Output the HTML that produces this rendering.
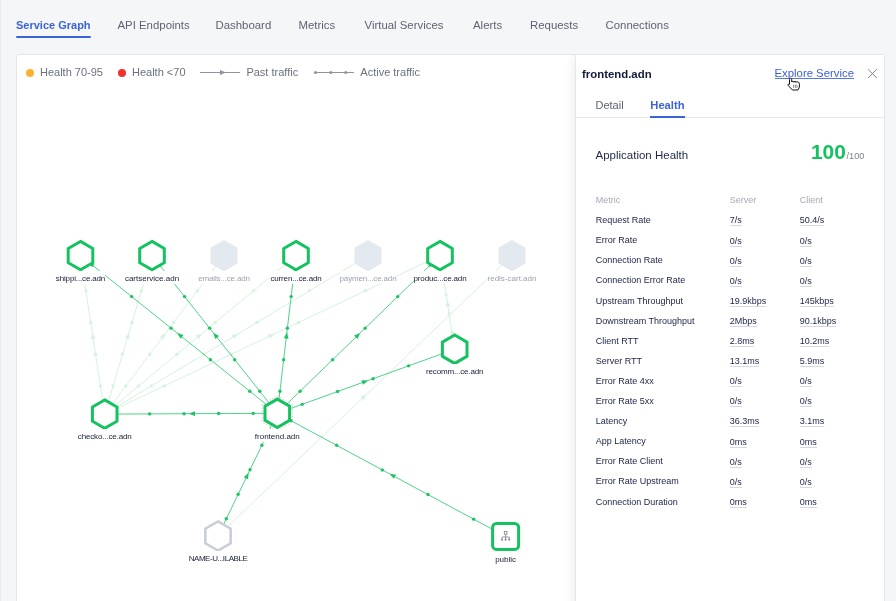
<!DOCTYPE html>
<html><head><meta charset="utf-8"><style>
*{margin:0;padding:0;box-sizing:border-box}
html,body{width:896px;height:601px;overflow:hidden;background:#f5f6f8;font-family:"Liberation Sans",sans-serif}
.tab{position:absolute;top:18.6px;font-size:11.4px;line-height:13px;color:#5d6372;white-space:nowrap}
.tab.act{color:#3b63d9;font-weight:bold;font-size:11px}
.uline{position:absolute;left:16px;top:36px;width:75px;height:2px;background:#3b63d9;border-radius:1px}
.card{position:absolute;left:16px;top:54px;width:869px;height:560px;background:#fff;border:1px solid #e2e5eb;border-radius:3px}
.leg{position:absolute;top:65.8px;font-size:11px;line-height:13px;color:#6b7182;white-space:nowrap}
.dot{position:absolute;width:8px;height:8px;border-radius:50%}
svg.g{position:absolute;left:0;top:0}
.lab{position:absolute;width:100px;text-align:center;font-size:8px;line-height:10px;white-space:nowrap}
.lab.e{letter-spacing:-0.15px}
.lab span{background:rgba(255,255,255,0.93);padding:3px 0 1px}
.lab .el{padding:0;background:none}
.panel{position:absolute;left:575px;top:55px;width:309px;height:560px;background:#fff;border-left:1px solid #e6e8ee;box-shadow:-6px 0 8px -3px rgba(30,40,70,0.07);clip-path:inset(0 0 0 -20px)}
.ptitle{position:absolute;left:582px;top:67.9px;font-size:11.4px;line-height:13px;font-weight:bold;color:#111a3a}
.explore{position:absolute;left:774.5px;top:67.2px;font-size:11.35px;line-height:13px;color:#3d5fd6}
.exul{position:absolute;left:774.5px;top:78px;width:79px;height:1px;background:#5a78dc}
.ptab{position:absolute;top:98.7px;font-size:11px;line-height:13px;color:#5d6372}
.ptab.act{color:#3b63d9;font-weight:bold;font-size:11.2px}
.pborder{position:absolute;left:576px;top:117px;width:308px;height:1px;background:#e6e8ee}
.puline{position:absolute;left:650px;top:116px;width:35px;height:2px;background:#3b63d9}
.apph{position:absolute;left:595.5px;top:148.2px;font-size:11.5px;line-height:14px;color:#1f2849}
.score{position:absolute;left:811px;top:139.5px;font-size:20.8px;line-height:24px;font-weight:bold;color:#14c25f}
.score small{font-size:9.2px;margin-left:0.8px;font-weight:normal;color:#7b8192}
.tbl div{position:absolute;font-size:9px;line-height:11px;white-space:nowrap;color:#1b2246}
.tbl .h{color:#a3a9b8}
.tbl .v{border-bottom:1px solid #d5d9e1;line-height:11px;height:11px}
</style></head><body><div id="w" style="position:absolute;left:0;top:0;width:896px;height:601px;will-change:transform">
<div style="position:absolute;left:0;top:0;width:1px;height:601px;background:#e8eaee"></div>
<div class="tab act" style="left:16px">Service Graph</div>
<div class="uline"></div>
<div class="tab" style="left:117.5px">API Endpoints</div>
<div class="tab" style="left:215.5px">Dashboard</div>
<div class="tab" style="left:298.5px">Metrics</div>
<div class="tab" style="left:364.5px">Virtual Services</div>
<div class="tab" style="left:473px">Alerts</div>
<div class="tab" style="left:530px">Requests</div>
<div class="tab" style="left:605.5px">Connections</div>
<div class="card"></div>
<div class="dot" style="left:25.6px;top:68.5px;background:#fbb232"></div>
<div class="leg" style="left:40px">Health 70-95</div>
<div class="dot" style="left:117.8px;top:68.5px;background:#f2312e"></div>
<div class="leg" style="left:132px">Health &lt;70</div>
<svg class="g" width="896" height="601" style="position:absolute;left:0;top:0">
<g stroke="#8e94a2" fill="#8e94a2"><line x1="200" y1="72.5" x2="240" y2="72.5" stroke-width="1"/><polygon points="226,72.5 220,70 220,75" stroke="none"/>
<line x1="314.5" y1="72.5" x2="354" y2="72.5" stroke-width="1"/><circle cx="315.5" cy="72.5" r="1.6" stroke="none"/><circle cx="330.8" cy="72.5" r="1.6" stroke="none"/><circle cx="345.8" cy="72.5" r="1.6" stroke="none"/></g>
</svg>
<div class="leg" style="left:246.4px">Past traffic</div>
<div class="leg" style="left:360.3px">Active traffic</div>
<svg class="g" width="896" height="601">
<line x1="104.7" y1="414.1" x2="80.5" y2="255.6" stroke="#d5f3df" stroke-width="1"/>
<polygon points="92.27,332.68 95.58,338.44 90.83,339.17" fill="#d5f3df"/>
<circle cx="100.39" cy="385.89" r="1.7" fill="#d5f3df"/>
<circle cx="95.55" cy="354.19" r="1.7" fill="#d5f3df"/>
<circle cx="90.71" cy="322.49" r="1.7" fill="#d5f3df"/>
<circle cx="85.87" cy="290.79" r="1.7" fill="#d5f3df"/>
<circle cx="81.03" cy="259.09" r="1.7" fill="#d5f3df"/>
<line x1="104.7" y1="414.1" x2="152" y2="255.6" stroke="#d5f3df" stroke-width="1"/>
<polygon points="128.98,332.74 129.51,339.37 124.91,338.00" fill="#d5f3df"/>
<circle cx="113.12" cy="385.89" r="1.7" fill="#d5f3df"/>
<circle cx="122.58" cy="354.19" r="1.7" fill="#d5f3df"/>
<circle cx="132.04" cy="322.49" r="1.7" fill="#d5f3df"/>
<circle cx="141.50" cy="290.79" r="1.7" fill="#d5f3df"/>
<circle cx="150.96" cy="259.09" r="1.7" fill="#d5f3df"/>
<line x1="104.7" y1="414.1" x2="224" y2="255.6" stroke="#d5f3df" stroke-width="1"/>
<polygon points="165.67,333.09 163.86,339.49 160.03,336.60" fill="#d5f3df"/>
<circle cx="125.94" cy="385.89" r="1.7" fill="#d5f3df"/>
<circle cx="149.80" cy="354.19" r="1.7" fill="#d5f3df"/>
<circle cx="173.66" cy="322.49" r="1.7" fill="#d5f3df"/>
<circle cx="197.52" cy="290.79" r="1.7" fill="#d5f3df"/>
<circle cx="221.38" cy="259.09" r="1.7" fill="#d5f3df"/>
<line x1="104.7" y1="414.1" x2="296" y2="255.6" stroke="#d5f3df" stroke-width="1"/>
<polygon points="202.04,333.45 198.80,339.25 195.74,335.55" fill="#d5f3df"/>
<circle cx="138.75" cy="385.89" r="1.7" fill="#d5f3df"/>
<circle cx="177.01" cy="354.19" r="1.7" fill="#d5f3df"/>
<circle cx="215.27" cy="322.49" r="1.7" fill="#d5f3df"/>
<circle cx="253.53" cy="290.79" r="1.7" fill="#d5f3df"/>
<circle cx="291.79" cy="259.09" r="1.7" fill="#d5f3df"/>
<line x1="104.7" y1="414.1" x2="368" y2="255.6" stroke="#d5f3df" stroke-width="1"/>
<polygon points="238.23,333.72 234.16,338.97 231.69,334.86" fill="#d5f3df"/>
<circle cx="151.57" cy="385.89" r="1.7" fill="#d5f3df"/>
<circle cx="204.23" cy="354.19" r="1.7" fill="#d5f3df"/>
<circle cx="256.89" cy="322.49" r="1.7" fill="#d5f3df"/>
<circle cx="309.55" cy="290.79" r="1.7" fill="#d5f3df"/>
<circle cx="362.21" cy="259.09" r="1.7" fill="#d5f3df"/>
<line x1="104.7" y1="414.1" x2="440" y2="255.6" stroke="#d5f3df" stroke-width="1"/>
<polygon points="274.34,333.91 269.76,338.73 267.71,334.39" fill="#d5f3df"/>
<circle cx="164.38" cy="385.89" r="1.7" fill="#d5f3df"/>
<circle cx="231.44" cy="354.19" r="1.7" fill="#d5f3df"/>
<circle cx="298.50" cy="322.49" r="1.7" fill="#d5f3df"/>
<circle cx="365.56" cy="290.79" r="1.7" fill="#d5f3df"/>
<circle cx="432.62" cy="259.09" r="1.7" fill="#d5f3df"/>
<line x1="454.7" y1="349.2" x2="440" y2="255.6" stroke="#d5f3df" stroke-width="1"/>
<polygon points="447.01,300.23 450.34,305.98 445.60,306.72" fill="#d5f3df"/>
<circle cx="452.08" cy="332.54" r="1.7" fill="#d5f3df"/>
<circle cx="449.14" cy="313.82" r="1.7" fill="#d5f3df"/>
<circle cx="446.20" cy="295.10" r="1.7" fill="#d5f3df"/>
<circle cx="443.26" cy="276.38" r="1.7" fill="#d5f3df"/>
<circle cx="440.32" cy="257.66" r="1.7" fill="#d5f3df"/>
<line x1="218" y1="536" x2="512" y2="255.6" stroke="#d5f3df" stroke-width="1"/>
<polygon points="366.59,394.28 363.76,400.30 360.45,396.82" fill="#d5f3df"/>
<line x1="277.3" y1="413.3" x2="80.5" y2="255.6" stroke="#30ca71" stroke-width="0.85"/>
<polygon points="177.18,333.07 183.52,335.08 180.52,338.82" fill="#1cc463"/>
<circle cx="249.75" cy="391.22" r="1.7" fill="#1cc463"/>
<circle cx="210.39" cy="359.68" r="1.7" fill="#1cc463"/>
<circle cx="171.03" cy="328.14" r="1.7" fill="#1cc463"/>
<circle cx="131.67" cy="296.60" r="1.7" fill="#1cc463"/>
<circle cx="92.31" cy="265.06" r="1.7" fill="#1cc463"/>
<line x1="277.3" y1="413.3" x2="152" y2="255.6" stroke="#30ca71" stroke-width="0.85"/>
<polygon points="213.28,332.73 219.02,336.09 215.26,339.07" fill="#1cc463"/>
<circle cx="259.76" cy="391.22" r="1.7" fill="#1cc463"/>
<circle cx="234.70" cy="359.68" r="1.7" fill="#1cc463"/>
<circle cx="209.64" cy="328.14" r="1.7" fill="#1cc463"/>
<circle cx="184.58" cy="296.60" r="1.7" fill="#1cc463"/>
<circle cx="159.52" cy="265.06" r="1.7" fill="#1cc463"/>
<line x1="277.3" y1="413.3" x2="296" y2="255.6" stroke="#30ca71" stroke-width="0.85"/>
<polygon points="286.91,332.27 288.56,338.70 283.80,338.14" fill="#1cc463"/>
<circle cx="279.92" cy="391.22" r="1.7" fill="#1cc463"/>
<circle cx="283.66" cy="359.68" r="1.7" fill="#1cc463"/>
<circle cx="287.40" cy="328.14" r="1.7" fill="#1cc463"/>
<circle cx="291.14" cy="296.60" r="1.7" fill="#1cc463"/>
<circle cx="294.88" cy="265.06" r="1.7" fill="#1cc463"/>
<line x1="277.3" y1="413.3" x2="440" y2="255.6" stroke="#30ca71" stroke-width="0.85"/>
<polygon points="360.23,332.92 357.45,338.96 354.11,335.51" fill="#1cc463"/>
<circle cx="300.08" cy="391.22" r="1.7" fill="#1cc463"/>
<circle cx="332.62" cy="359.68" r="1.7" fill="#1cc463"/>
<circle cx="365.16" cy="328.14" r="1.7" fill="#1cc463"/>
<circle cx="397.70" cy="296.60" r="1.7" fill="#1cc463"/>
<circle cx="430.24" cy="265.06" r="1.7" fill="#1cc463"/>
<line x1="277.3" y1="413.3" x2="454.7" y2="349.2" stroke="#30ca71" stroke-width="0.85"/>
<polygon points="368.07,380.50 363.05,384.87 361.42,380.35" fill="#1cc463"/>
<circle cx="302.14" cy="404.33" r="1.7" fill="#1cc463"/>
<circle cx="337.62" cy="391.51" r="1.7" fill="#1cc463"/>
<circle cx="373.10" cy="378.69" r="1.7" fill="#1cc463"/>
<circle cx="408.58" cy="365.87" r="1.7" fill="#1cc463"/>
<circle cx="444.06" cy="353.05" r="1.7" fill="#1cc463"/>
<line x1="277.3" y1="413.3" x2="104.7" y2="414.1" stroke="#30ca71" stroke-width="0.85"/>
<polygon points="188.80,413.71 194.99,411.28 195.01,416.08" fill="#1cc463"/>
<circle cx="253.14" cy="413.41" r="1.7" fill="#1cc463"/>
<circle cx="218.62" cy="413.57" r="1.7" fill="#1cc463"/>
<circle cx="184.10" cy="413.73" r="1.7" fill="#1cc463"/>
<circle cx="149.58" cy="413.89" r="1.7" fill="#1cc463"/>
<circle cx="115.06" cy="414.05" r="1.7" fill="#1cc463"/>
<line x1="218" y1="536" x2="277.3" y2="413.3" stroke="#30ca71" stroke-width="0.85"/>
<polygon points="248.61,472.67 248.07,479.30 243.75,477.21" fill="#1cc463"/>
<circle cx="226.30" cy="518.82" r="1.7" fill="#1cc463"/>
<circle cx="238.16" cy="494.28" r="1.7" fill="#1cc463"/>
<circle cx="250.02" cy="469.74" r="1.7" fill="#1cc463"/>
<circle cx="261.88" cy="445.20" r="1.7" fill="#1cc463"/>
<circle cx="273.74" cy="420.66" r="1.7" fill="#1cc463"/>
<line x1="505.6" y1="536.4" x2="277.3" y2="413.3" stroke="#30ca71" stroke-width="0.85"/>
<polygon points="389.51,473.81 396.11,474.64 393.83,478.86" fill="#1cc463"/>
<circle cx="473.64" cy="519.17" r="1.7" fill="#1cc463"/>
<circle cx="427.98" cy="494.55" r="1.7" fill="#1cc463"/>
<circle cx="382.32" cy="469.93" r="1.7" fill="#1cc463"/>
<circle cx="336.66" cy="445.31" r="1.7" fill="#1cc463"/>
<circle cx="291.00" cy="420.69" r="1.7" fill="#1cc463"/>
<polygon points="80.50,241.40 92.80,248.50 92.80,262.70 80.50,269.80 68.20,262.70 68.20,248.50" fill="#fff" stroke="#14c25f" stroke-width="3" stroke-linejoin="miter"/>
<polygon points="152.00,241.40 164.30,248.50 164.30,262.70 152.00,269.80 139.70,262.70 139.70,248.50" fill="#fff" stroke="#14c25f" stroke-width="3" stroke-linejoin="miter"/>
<polygon points="224.00,241.10 236.56,248.35 236.56,262.85 224.00,270.10 211.44,262.85 211.44,248.35" fill="#e4e8ef" stroke="#e4e8ef" stroke-width="2" stroke-linejoin="round"/>
<polygon points="296.00,241.40 308.30,248.50 308.30,262.70 296.00,269.80 283.70,262.70 283.70,248.50" fill="#fff" stroke="#14c25f" stroke-width="3" stroke-linejoin="miter"/>
<polygon points="368.00,241.10 380.56,248.35 380.56,262.85 368.00,270.10 355.44,262.85 355.44,248.35" fill="#e4e8ef" stroke="#e4e8ef" stroke-width="2" stroke-linejoin="round"/>
<polygon points="440.00,241.40 452.30,248.50 452.30,262.70 440.00,269.80 427.70,262.70 427.70,248.50" fill="#fff" stroke="#14c25f" stroke-width="3" stroke-linejoin="miter"/>
<polygon points="512.00,241.10 524.56,248.35 524.56,262.85 512.00,270.10 499.44,262.85 499.44,248.35" fill="#e4e8ef" stroke="#e4e8ef" stroke-width="2" stroke-linejoin="round"/>
<polygon points="454.70,335.00 467.00,342.10 467.00,356.30 454.70,363.40 442.40,356.30 442.40,342.10" fill="#fff" stroke="#14c25f" stroke-width="3" stroke-linejoin="miter"/>
<polygon points="104.70,399.90 117.00,407.00 117.00,421.20 104.70,428.30 92.40,421.20 92.40,407.00" fill="#fff" stroke="#14c25f" stroke-width="3" stroke-linejoin="miter"/>
<polygon points="277.30,395.80 292.46,404.55 292.46,422.05 277.30,430.80 262.14,422.05 262.14,404.55" fill="none" stroke="#c9cdd5" stroke-width="0.9" stroke-dasharray="1.6,1.6"/>
<polygon points="277.30,399.10 289.60,406.20 289.60,420.40 277.30,427.50 265.00,420.40 265.00,406.20" fill="#fff" stroke="#14c25f" stroke-width="3" stroke-linejoin="miter"/>
<polygon points="218.00,521.40 230.64,528.70 230.64,543.30 218.00,550.60 205.36,543.30 205.36,528.70" fill="#fff" stroke="#c9ced8" stroke-width="2.6"/>
<rect x="492.6" y="523.4" width="26" height="26" rx="4" fill="#fff" stroke="#14c25f" stroke-width="3"/>
<g stroke="#7d8596" fill="none" stroke-width="0.8"><rect x="504.3" y="531.6" width="2.6" height="2.6"/><path d="M505.6 534.1999999999999V537.0M502.0 539.0V537.0H509.20000000000005V539.0M505.6 537.0V539.0"/></g><g fill="#7d8596"><circle cx="502.0" cy="539.8" r="1"/><circle cx="505.6" cy="539.8" r="1"/><circle cx="509.20000000000005" cy="539.8" r="1"/></g>
</svg>
<div class="lab e" style="left:30.5px;top:273.8px;color:#181d3a"><span>shippi<span class=el>...</span>ce.adn</span></div>
<div class="lab" style="left:102px;top:273.8px;color:#181d3a"><span>cartservice.adn</span></div>
<div class="lab e" style="left:174px;top:273.8px;color:#9ba2b4"><span>emails<span class=el>...</span>ce.adn</span></div>
<div class="lab e" style="left:246px;top:273.8px;color:#181d3a"><span>curren<span class=el>...</span>ce.adn</span></div>
<div class="lab e" style="left:318px;top:273.8px;color:#9ba2b4"><span>paymen<span class=el>...</span>ce.adn</span></div>
<div class="lab e" style="left:390px;top:273.8px;color:#181d3a"><span>produc<span class=el>...</span>ce.adn</span></div>
<div class="lab" style="left:462px;top:273.8px;color:#9ba2b4"><span>redis-cart.adn</span></div>
<div class="lab e" style="left:404.7px;top:367.4px;color:#181d3a"><span>recomm<span class=el>...</span>ce.adn</span></div>
<div class="lab e" style="left:54.7px;top:432.3px;color:#181d3a"><span>checko<span class=el>...</span>ce.adn</span></div>
<div class="lab" style="left:227.3px;top:431.5px;color:#181d3a"><span>frontend.adn</span></div>
<div class="lab e" style="left:168px;top:554.2px;color:#181d3a"><span><b style="font-weight:normal;letter-spacing:-0.45px">NAME-U...ILABLE</b></span></div>
<div class="lab" style="left:455.6px;top:554.6px;color:#181d3a"><span>public</span></div>
<div class="panel"></div>
<div class="ptitle">frontend.adn</div>
<div class="explore">Explore Service</div><div class="exul"></div>
<svg class="g" width="896" height="601"><path d="M868 69.2L876.8 78M876.8 69.2L868 78" stroke="#7d8391" stroke-width="1"/></svg>
<svg class="g" width="896" height="601"><g transform="translate(790.6,78.4)"><path d="M-1.1 0.9Q-1.1 -0.1 0 -0.1Q1.1 -0.1 1.1 0.9L1.1 3.6Q1.2 2.9 2.2 2.9Q3.3 2.9 3.3 3.9Q3.4 3.0 4.4 3.0Q5.5 3.0 5.5 4.0Q5.6 3.3 6.6 3.3Q7.8 3.3 8.3 4.3L8.9 6.2Q9.1 7.5 8.5 9.5L7.3 11.6L1.9 11.6L-2.3 7.2Q-2.9 6.2 -2.1 5.6Q-1.6 5.3 -1.1 5.9Z" fill="#fff" stroke="#111" stroke-width="1" stroke-linejoin="round"/><path d="M3 6.4V9.4M4.8 6.4V9.4M6.4 6.4V9.4" stroke="#333" stroke-width="0.6"/></g></svg>
<div class="ptab" style="left:595.5px">Detail</div>
<div class="ptab act" style="left:650.3px">Health</div>
<div class="pborder"></div>
<div class="puline"></div>
<div class="apph">Application Health</div>
<div class="score">100<small>/100</small></div>
<div class="tbl">
<div class="h" style="left:595.7px;top:194.6px">Metric</div><div class="h" style="left:729.8px;top:194.9px">Server</div><div class="h" style="left:799.8px;top:194.9px">Client</div>
<div style="left:595.7px;top:215.1px">Request Rate</div><div class="v" style="left:729.8px;top:215.4px">7/s</div><div class="v" style="left:799.8px;top:215.4px">50.4/s</div>
<div style="left:595.7px;top:235.2px">Error Rate</div><div class="v" style="left:729.8px;top:235.5px">0/s</div><div class="v" style="left:799.8px;top:235.5px">0/s</div>
<div style="left:595.7px;top:255.3px">Connection Rate</div><div class="v" style="left:729.8px;top:255.6px">0/s</div><div class="v" style="left:799.8px;top:255.6px">0/s</div>
<div style="left:595.7px;top:275.4px">Connection Error Rate</div><div class="v" style="left:729.8px;top:275.7px">0/s</div><div class="v" style="left:799.8px;top:275.7px">0/s</div>
<div style="left:595.7px;top:295.5px">Upstream Throughput</div><div class="v" style="left:729.8px;top:295.8px">19.9kbps</div><div class="v" style="left:799.8px;top:295.8px">145kbps</div>
<div style="left:595.7px;top:315.6px">Downstream Throughput</div><div class="v" style="left:729.8px;top:315.9px">2Mbps</div><div class="v" style="left:799.8px;top:315.9px">90.1kbps</div>
<div style="left:595.7px;top:335.7px">Client RTT</div><div class="v" style="left:729.8px;top:336.0px">2.8ms</div><div class="v" style="left:799.8px;top:336.0px">10.2ms</div>
<div style="left:595.7px;top:355.8px">Server RTT</div><div class="v" style="left:729.8px;top:356.1px">13.1ms</div><div class="v" style="left:799.8px;top:356.1px">5.9ms</div>
<div style="left:595.7px;top:375.9px">Error Rate 4xx</div><div class="v" style="left:729.8px;top:376.2px">0/s</div><div class="v" style="left:799.8px;top:376.2px">0/s</div>
<div style="left:595.7px;top:396.0px">Error Rate 5xx</div><div class="v" style="left:729.8px;top:396.3px">0/s</div><div class="v" style="left:799.8px;top:396.3px">0/s</div>
<div style="left:595.7px;top:416.1px">Latency</div><div class="v" style="left:729.8px;top:416.4px">36.3ms</div><div class="v" style="left:799.8px;top:416.4px">3.1ms</div>
<div style="left:595.7px;top:436.2px">App Latency</div><div class="v" style="left:729.8px;top:436.5px">0ms</div><div class="v" style="left:799.8px;top:436.5px">0ms</div>
<div style="left:595.7px;top:456.3px">Error Rate Client</div><div class="v" style="left:729.8px;top:456.6px">0/s</div><div class="v" style="left:799.8px;top:456.6px">0/s</div>
<div style="left:595.7px;top:476.4px">Error Rate Upstream</div><div class="v" style="left:729.8px;top:476.7px">0/s</div><div class="v" style="left:799.8px;top:476.7px">0/s</div>
<div style="left:595.7px;top:496.5px">Connection Duration</div><div class="v" style="left:729.8px;top:496.8px">0ms</div><div class="v" style="left:799.8px;top:496.8px">0ms</div>
</div>
</div></body></html>
